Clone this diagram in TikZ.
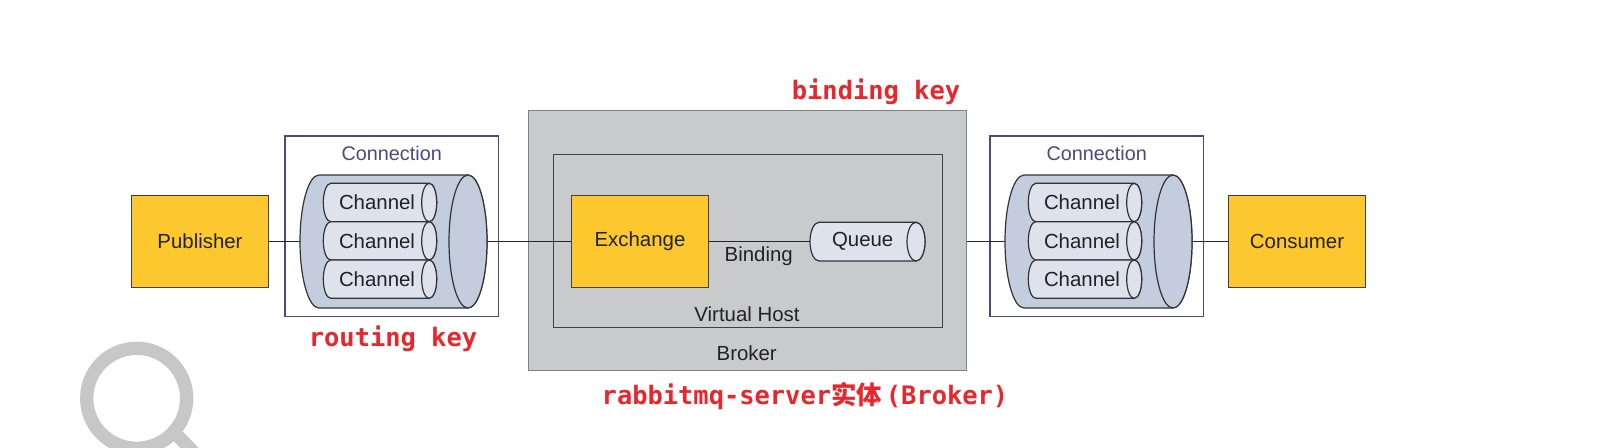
\documentclass[tikz,border=0pt]{standalone}
\usepackage{fontspec}
\setmainfont{Liberation Sans}
\newfontfamily\monob{DejaVu Sans Mono}
\newfontfamily\cjk{Noto Sans CJK SC}
\definecolor{boxyellow}{HTML}{FDC82F}
\definecolor{cylblue}{HTML}{C4CDDD}
\definecolor{chblue}{HTML}{DDE2EC}
\definecolor{navy}{HTML}{4A4A7E}
\definecolor{brokergrey}{HTML}{C9CACC}
\definecolor{redtxt}{HTML}{E8262C}
\definecolor{txt}{HTML}{222222}
% horizontal cylinder: x-left, x-right, y-top, y-bottom, end x radius, fill
\newcommand\hcyl[6]{%
  \filldraw[cylline, fill=#6] ({#1+#5},#3) -- ({#2-#5},#3)
    arc[start angle=-90, end angle=90, x radius=#5, y radius={(#4-#3)/2}]
    -- ({#1+#5},#4)
    arc[start angle=90, end angle=270, x radius=#5, y radius={(#4-#3)/2}] -- cycle;
  \filldraw[cylline, fill=#6] ({#2-#5},{(#3+#4)/2}) ellipse[x radius=#5, y radius={(#4-#3)/2}];
}
\begin{document}
\begin{tikzpicture}[x=0.5pt,y=-0.5pt,
  lbl/.style={font=\fontsize{10.2pt}{12pt}\selectfont, text=txt, inner sep=0},
  ybox/.style={draw=black!75, line width=0.7pt, fill=boxyellow, minimum width=68.3pt, minimum height=46pt, inner sep=0, lbl},
  connbox/.style={draw=navy, line width=0.7pt, fill=white, minimum width=106.6pt, minimum height=90.3pt, inner sep=0},
  cylline/.style={draw=black!80, line width=0.6pt},
  anchorbox/.style={inner sep=0, outer sep=0},
  redlbl/.style={font=\monob\bfseries\fontsize{12.7pt}{15pt}\selectfont, text=redtxt, inner sep=0},
  conn/.style={draw=black!85, line width=0.6pt}
]
\useasboundingbox (0,0) rectangle (1622,447);
\fill[white] (0,0) rectangle (1622,447);
% watermark ring
\begin{scope}
\clip (0,0) rectangle (1622,447);
\draw[line width=6.65pt, color=black!22] (136.7,398.3) circle[radius=50];
\draw[line width=6.65pt, color=black!22] (178,436) -- (215,475);
\end{scope}
% broker
\node[draw=black!50, line width=0.7pt, fill=brokergrey, minimum width=219.2pt, minimum height=129.9pt, inner sep=0] (broker) at (747.5,240.6) {};
\node[draw=black!75, line width=0.7pt, minimum width=194.7pt, minimum height=86.7pt, inner sep=0] (vhost) at (748,241) {};
\node[lbl] (brokerlbl) at (746.7,352.7) {Broker};
\node[lbl] (vhostlbl) at (747,314.3) {Virtual Host};
\node[ybox] (exch) at (640,241.5) {Exchange};
\hcyl{810}{925}{222.3}{261}{9}{chblue}
\node[anchorbox, minimum width=57.5pt, minimum height=19.35pt] (queue) at (867.5,241.65) {};
\node[lbl] (queuelbl) at (862.7,241.7) {Queue};
\node[lbl] (bindlbl) at (758.7,256) {Binding};
% publisher / consumer
\node[ybox] (pub) at (200,241.5) {Publisher};
\node[ybox] (cons) at (1297,241.5) {Consumer};
% left connection
\node[connbox] (connL) at (391.7,226.4) {};
\node[lbl, text=navy, font=\fontsize{9.9pt}{12pt}\selectfont] (connLlbl) at (391.7,153.3) {Connection};
\hcyl{300}{487}{175}{308}{19}{cylblue}
\node[anchorbox, minimum width=93.5pt, minimum height=66.5pt] (cylL) at (393.5,241.5) {};
\hcyl{323.3}{436.7}{183.3}{221.7}{7.5}{chblue}
\hcyl{323.3}{436.7}{221.7}{260}{7.5}{chblue}
\hcyl{323.3}{436.7}{260}{298.3}{7.5}{chblue}
\node[lbl] (chL1) at (377,202.5) {Channel};
\node[lbl] (chL2) at (377,240.8) {Channel};
\node[lbl] (chL3) at (377,279.2) {Channel};
% right connection
\node[connbox] (connR) at (1096.7,226.4) {};
\node[lbl, text=navy, font=\fontsize{9.9pt}{12pt}\selectfont] (connRlbl) at (1096.7,153.3) {Connection};
\hcyl{1005}{1192}{175}{308}{19}{cylblue}
\node[anchorbox, minimum width=93.5pt, minimum height=66.5pt] (cylR) at (1098.5,241.5) {};
\hcyl{1028.3}{1141.7}{183.3}{221.7}{7.5}{chblue}
\hcyl{1028.3}{1141.7}{221.7}{260}{7.5}{chblue}
\hcyl{1028.3}{1141.7}{260}{298.3}{7.5}{chblue}
\node[lbl] (chR1) at (1082,202.5) {Channel};
\node[lbl] (chR2) at (1082,240.8) {Channel};
\node[lbl] (chR3) at (1082,279.2) {Channel};
% connectors
\draw[conn] (pub.east) -- (pub.east -| cylL.west);
\draw[conn] (cylL.east |- exch.west) -- (exch.west);
\draw[conn] (exch.east) -- (exch.east -| queue.west);
\draw[conn] (cylR.west -| broker.east) -- (cylR.west);
\draw[conn] (cylR.east |- cons.west) -- (cons.west);
% red labels
\node[redlbl] (rk) at (393,339) {routing key};
\node[redlbl] (bk) at (876,92) {binding key};
\node[redlbl] (rs) at (805,396) {rabbitmq-server{\cjk\bfseries 实体}\hspace{2pt}(Broker)};
\end{tikzpicture}
\end{document}
